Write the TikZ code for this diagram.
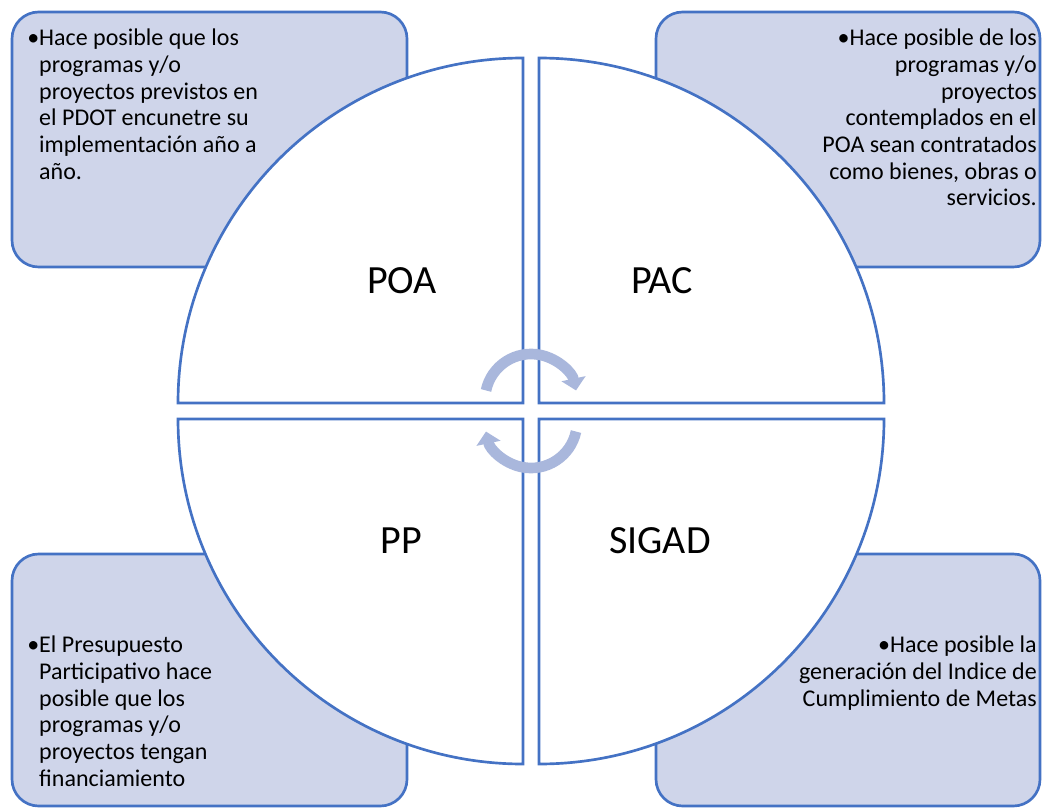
\documentclass[tikz,border=0pt]{standalone}
\usepackage{fontspec}
\setmainfont{Carlito}
\usetikzlibrary{arrows.meta}
\definecolor{accent}{HTML}{4472C4}
\definecolor{boxfill}{HTML}{CFD5EA}
\definecolor{cycfill}{HTML}{A9B7DC}
\newcommand{\bulind}{\phantom{\textbullet}}

\begin{document}
\begin{tikzpicture}[x=0.75pt,y=0.75pt,
  quad/.style={draw=accent, line width=2pt, fill=white},
  infobox/.style={draw=accent, line width=2pt, fill=boxfill, rounded corners=20pt},
  infotext/.style={inner sep=0pt, font=\fontsize{18}{20}\selectfont},
  quadname/.style={font=\fontsize{30}{34}\selectfont},
  cyc/.style={draw=cycfill, line width=8pt, -{Triangle[width=18pt,length=9pt]}}]
\useasboundingbox (0,0) rectangle (1044,808);

% boxes behind the circle
\draw [infobox] (12,541) rectangle (407,796);
\draw [infobox] (656,541) rectangle (1040,796);
\draw [infobox] (12,2) rectangle (407,254);
\draw [infobox] (656,2) rectangle (1040,254);

% four quarters
\draw [quad] (523,405) -- ++(-345,0) arc[start angle=180, end angle=90, radius=345] -- cycle;
\draw [quad] (539,405) -- ++(0,345) arc[start angle=90, end angle=0, radius=345] -- cycle;
\draw [quad] (523,389) -- ++(0,-345) arc[start angle=270, end angle=180, radius=345] -- cycle;
\draw [quad] (539,389) -- ++(345,0) arc[start angle=0, end angle=-90, radius=345] -- cycle;

\node [quadname] (POA) at (402,527) {POA};
\node [quadname] (PAC) at (662,527) {PAC};
\node [quadname] (PP) at (401,267) {PP};
\node [quadname] (SIGAD) at (660,267) {SIGAD};

% cycle arrows
\draw [cyc] (531,408) ++(168:46) arc[start angle=168, end angle=12, radius=46];
\draw [cyc] (531,386) ++(-12:46) arc[start angle=-12, end angle=-168, radius=46];

% texts
\node [infotext, anchor=north west, align=left] (POAtext) at (27,779)
  {\textbullet Hace posible que los\\ \bulind programas y/o\\ \bulind proyectos previstos en\\
   \bulind el PDOT encunetre su\\ \bulind implementación año a\\ \bulind año.};
\node [infotext, anchor=north east, align=right] (PACtext) at (1037,779)
  {\textbullet Hace posible de los\\ programas y/o\\ proyectos\\ contemplados en el\\
   POA sean contratados\\ como bienes, obras o\\ servicios.};
\node [infotext, anchor=north west, align=left] (PPtext) at (27,172)
  {\textbullet El Presupuesto\\ \bulind Participativo hace\\ \bulind posible que los\\
   \bulind programas y/o\\ \bulind proyectos tengan\\ \bulind financiamiento};
\node [infotext, anchor=north east, align=right] (SIGADtext) at (1037,172)
  {\textbullet Hace posible la\\ generación del Indice de\\ Cumplimiento de Metas};

\end{tikzpicture}
\end{document}
